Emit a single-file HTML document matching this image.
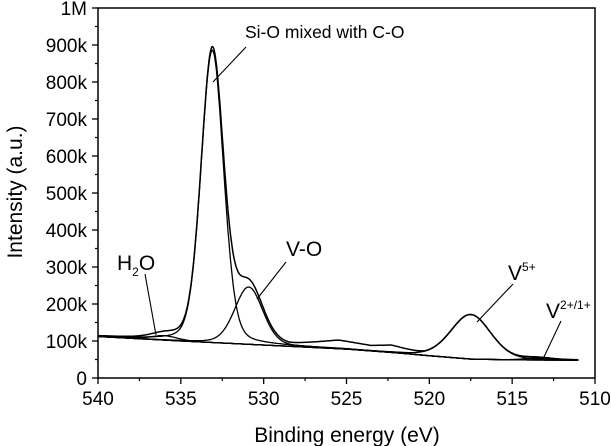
<!DOCTYPE html>
<html><head><meta charset="utf-8"><style>
body{margin:0;background:#fff}
svg{display:block;font-family:"Liberation Sans",sans-serif}
</style></head><body>
<svg id="c" width="611" height="446"></svg>
<script>
const xTicks=[540,535,530,525,520,515,510];
const yTicks=[0,100000,200000,300000,400000,500000,600000,700000,800000,900000,1000000];
const yTickLabels=["0","100k","200k","300k","400k","500k","600k","700k","800k","900k","1M"];
const bgE=[540,535,530,525,522,520,517.5,515,511];
const bgI=[112000,100000,89000,78000,68000,60000,51000,49000,48000];
const humpE=[528.5,525.5,523.5,522.3,520.3];
const humpI=[0,20000,12000,17000,0];
const peakNames=["H2O","Si-O","V-O","V5+","V2+/1+"];
const peakCenters=[536,533.1,530.9,517.5,513.5];
const peakHeights=[12000,790000,155000,120000,5000];
const peakSigmas=[0.8,0.68,0.85,1.2,0.8];

const L=98,R=595,T=8,B=378;
const sx=e=>L+(540-e)/(540-510)*(R-L);
const sy=v=>B-v/1000000*(B-T);
const svg=document.getElementById('c');
const NS='http://www.w3.org/2000/svg';
function mk(t,a,p){const el=document.createElementNS(NS,t);for(const k in a)el.setAttribute(k,a[k]);(p||svg).appendChild(el);return el;}
function interp(xs,ys,e){
  if(e>=xs[0])return ys[0];
  for(let i=0;i<xs.length-1;i++){if(e<=xs[i]&&e>=xs[i+1]){const t=(xs[i]-e)/(xs[i]-xs[i+1]);return ys[i]+t*(ys[i+1]-ys[i]);}}
  return ys[ys.length-1];
}
function hump(e){if(e>humpE[0]||e<humpE[humpE.length-1])return 0;return interp(humpE,humpI,e);}
function comp(i,e){const d=(e-peakCenters[i])/peakSigmas[i];const g=Math.exp(-0.5*d*d);const l=1/(1+d*d*0.72);return peakHeights[i]*(0.8*g+0.2*l);}
const es=[];for(let e=540;e>=511;e-=0.05)es.push(e);

let d='';es.forEach((e,j)=>{d+=(j?'L':'M')+sx(e).toFixed(1)+','+sy(interp(bgE,bgI,e)).toFixed(1);});
const bg=mk('path',{d:d,fill:'none',stroke:'#000','stroke-width':1.3});


peakNames.forEach((n,i)=>{
  let p='';es.forEach((e,j)=>{p+=(j?'L':'M')+sx(e).toFixed(1)+','+sy(interp(bgE,bgI,e)+comp(i,e)).toFixed(1);});
  const el=mk('path',{d:p,fill:'none',stroke:'#000','stroke-width':1.3});
  
  
});
let ev='';es.forEach((e,j)=>{let v=interp(bgE,bgI,e)+hump(e);peakNames.forEach((n,i)=>v+=comp(i,e));ev+=(j?'L':'M')+sx(e).toFixed(1)+','+sy(v).toFixed(1);});
const env=mk('path',{d:ev,fill:'none',stroke:'#000','stroke-width':1.5,'stroke-linejoin':'round'});



const fr=mk('rect',{x:L,y:T,width:R-L,height:B-T,fill:'none',stroke:'#000','stroke-width':1.5});


xTicks.forEach(t=>{
  const x=sx(t);
  mk('line',{x1:x,y1:B,x2:x,y2:B+6,stroke:'#000','stroke-width':1.3});
  const tx=mk('text',{x:x,y:B+27,'text-anchor':'middle','font-size':19});
  tx.textContent=t;
  
  
});
for(let e=537.5;e>510;e-=5){mk('line',{x1:sx(e),y1:B,x2:sx(e),y2:B+3,stroke:'#000','stroke-width':1.2});}
yTicks.forEach((t,i)=>{
  const y=sy(t);
  mk('line',{x1:L-6,y1:y,x2:L,y2:y,stroke:'#000','stroke-width':1.3});
  if(i<yTicks.length-1)mk('line',{x1:L-3,y1:sy(t+50000),x2:L,y2:sy(t+50000),stroke:'#000','stroke-width':1.2});
  const tx=mk('text',{x:L-11,y:y+7,'text-anchor':'end','font-size':19});
  tx.textContent=yTickLabels[i];
  
  
});
</script>
<svg width="611" height="446" style="position:absolute;left:0;top:0">
<g font-family="Liberation Sans, sans-serif" fill="#000">
<text x="347" y="442" text-anchor="middle" font-size="21">Binding energy (eV)</text>
<text transform="translate(22,192) rotate(-90)" text-anchor="middle" font-size="21">Intensity (a.u.)</text>
<text x="245" y="38" font-size="17.5">Si-O mixed with C-O</text>
<text x="117" y="270" font-size="21">H<tspan font-size="12" dy="6">2</tspan><tspan dy="-6">O</tspan></text>
<text x="286" y="256" font-size="21">V-O</text>
<text x="508" y="280" font-size="21">V<tspan font-size="12" dy="-9">5+</tspan></text>
<text x="546" y="318" font-size="21">V<tspan font-size="12" dy="-9">2+/1+</tspan></text>
</g>
<g stroke="#000" stroke-width="1.1">
<line x1="246" y1="47" x2="213" y2="82"/>
<line x1="145" y1="274" x2="156" y2="335"/>
<line x1="286" y1="262" x2="257" y2="299"/>
<line x1="513" y1="284" x2="477" y2="322"/>
<line x1="561" y1="321" x2="543" y2="359"/>
</g>
</svg>
</body></html>
